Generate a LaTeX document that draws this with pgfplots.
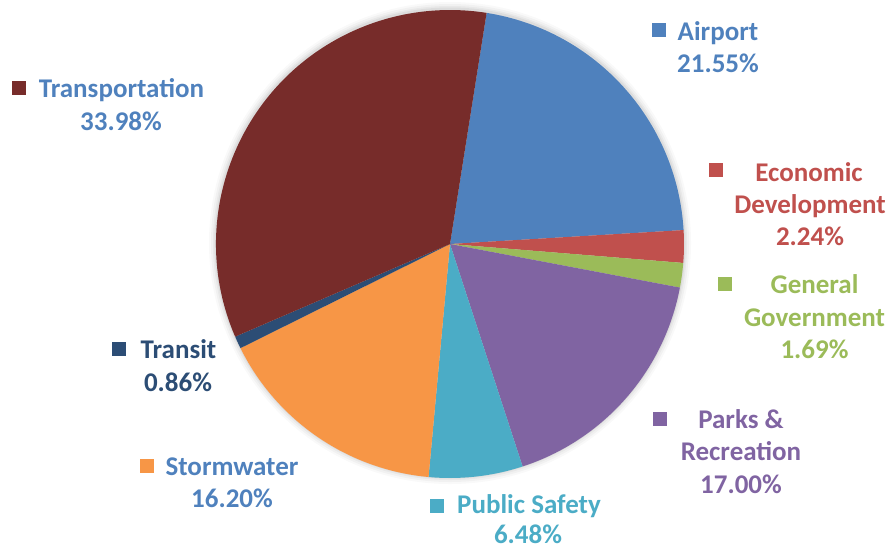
\documentclass[border=0pt]{standalone}
\usepackage{pgfplots}
\pgfplotsset{compat=1.18}
\usepackage{fontspec}
\setmainfont{Carlito}
\definecolor{cAir}{HTML}{4F81BD}
\definecolor{cEco}{HTML}{C0504D}
\definecolor{cGen}{HTML}{9BBB59}
\definecolor{cPar}{HTML}{8064A2}
\definecolor{cPub}{HTML}{4BACC6}
\definecolor{cSto}{HTML}{F79646}
\definecolor{cTrn}{HTML}{2C4D75}
\definecolor{cTra}{HTML}{772C2A}
\begin{document}
\begin{tikzpicture}
% shares (percent), clockwise from the start angle
\def\pAir{21.55}\def\pEco{2.24}\def\pGen{1.69}\def\pPar{17.00}
\def\pPub{6.48}\def\pSto{16.20}\def\pTrn{0.86}\def\pTra{33.98}
\pgfmathsetmacro\aA{81}
\pgfmathsetmacro\aB{\aA-3.6*\pAir}
\pgfmathsetmacro\aC{\aB-3.6*\pEco}
\pgfmathsetmacro\aD{\aC-3.6*\pGen}
\pgfmathsetmacro\aE{\aD-3.6*\pPar}
\pgfmathsetmacro\aF{\aE-3.6*\pPub}
\pgfmathsetmacro\aG{\aF-3.6*\pSto}
\pgfmathsetmacro\aH{\aG-3.6*\pTrn}
\pgfmathsetmacro\aI{\aH-3.6*\pTra}
\begin{axis}[width=890pt, height=550pt, scale only axis,
  xmin=0, xmax=890, ymin=0, ymax=550, y dir=reverse,
  hide axis, clip=false]
\path (axis cs:0,0) (axis cs:890,550);
% soft shadow
\fill[black, opacity=0.025] (axis cs:450,243) circle[radius=241pt];
\fill[black, opacity=0.03] (axis cs:450,243) circle[radius=239pt];
\fill[black, opacity=0.04] (axis cs:450,243) circle[radius=237pt];
\fill[black, opacity=0.05] (axis cs:450,243) circle[radius=235.5pt];
% slices
\fill[cAir] (axis cs:450,244) -- ++(\aA:234pt) arc[start angle=\aA, end angle=\aB, radius=234pt] -- cycle;
\fill[cEco] (axis cs:450,244) -- ++(\aB:234pt) arc[start angle=\aB, end angle=\aC, radius=234pt] -- cycle;
\fill[cGen] (axis cs:450,244) -- ++(\aC:234pt) arc[start angle=\aC, end angle=\aD, radius=234pt] -- cycle;
\fill[cPar] (axis cs:450,244) -- ++(\aD:234pt) arc[start angle=\aD, end angle=\aE, radius=234pt] -- cycle;
\fill[cPub] (axis cs:450,244) -- ++(\aE:234pt) arc[start angle=\aE, end angle=\aF, radius=234pt] -- cycle;
\fill[cSto] (axis cs:450,244) -- ++(\aF:234pt) arc[start angle=\aF, end angle=\aG, radius=234pt] -- cycle;
\fill[cTrn] (axis cs:450,244) -- ++(\aG:234pt) arc[start angle=\aG, end angle=\aH, radius=234pt] -- cycle;
\fill[cTra] (axis cs:450,244) -- ++(\aH:234pt) arc[start angle=\aH, end angle=\aI, radius=234pt] -- cycle;
% label squares
\fill[cTra] (axis cs:11.5,81) rectangle (axis cs:25.5,95);
\fill[cAir] (axis cs:651.5,23) rectangle (axis cs:665.5,37);
\fill[cEco] (axis cs:709,163) rectangle (axis cs:723,177);
\fill[cGen] (axis cs:717.5,277) rectangle (axis cs:731.5,291);
\fill[cPar] (axis cs:653,412) rectangle (axis cs:667,426);
\fill[cPub] (axis cs:430,499) rectangle (axis cs:444,513);
\fill[cSto] (axis cs:139.5,459) rectangle (axis cs:153.5,473);
\fill[cTrn] (axis cs:112,342) rectangle (axis cs:126,356);
% labels
\tikzset{lab/.style={anchor=base, inner sep=0pt, font=\bfseries\fontsize{27}{33}\selectfont}}
\node[lab, text=cAir] at (axis cs:121.5,97) {Transportation};
\node[lab, text=cAir] at (axis cs:121,130) {33.98\%};
\node[lab, text=cAir] at (axis cs:718,40) {Airport};
\node[lab, text=cAir] at (axis cs:718,72) {21.55\%};
\node[lab, text=cEco] at (axis cs:809,181) {Economic};
\node[lab, text=cEco] at (axis cs:810,213) {Development};
\node[lab, text=cEco] at (axis cs:810,245) {2.24\%};
\node[lab, text=cGen] at (axis cs:814.5,293) {General};
\node[lab, text=cGen] at (axis cs:814.5,326) {Government};
\node[lab, text=cGen] at (axis cs:814.5,358) {1.69\%};
\node[lab, text=cPar] at (axis cs:741,428) {Parks \&};
\node[lab, text=cPar] at (axis cs:741,460) {Recreation};
\node[lab, text=cPar] at (axis cs:741,493) {17.00\%};
\node[lab, text=cPub] at (axis cs:529,513) {Public Safety};
\node[lab, text=cPub] at (axis cs:528,543) {6.48\%};
\node[lab, text=cAir] at (axis cs:232,475) {Stormwater};
\node[lab, text=cAir] at (axis cs:232,507) {16.20\%};
\node[lab, text=cTrn] at (axis cs:178.5,358) {Transit};
\node[lab, text=cTrn] at (axis cs:178,391) {0.86\%};
\end{axis}
\end{tikzpicture}
\end{document}
